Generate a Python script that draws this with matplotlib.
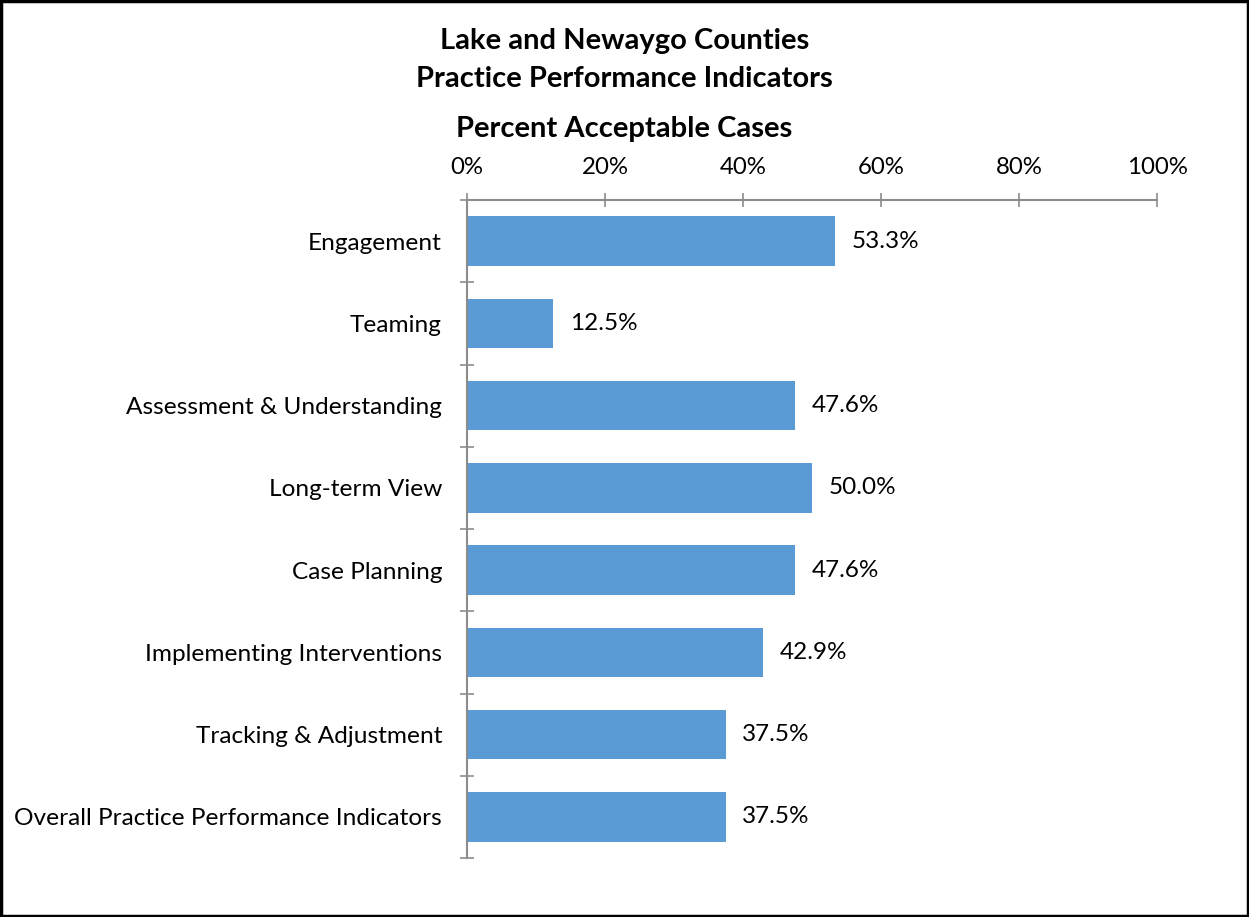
import matplotlib.pyplot as plt
import numpy as np
from matplotlib.patches import Rectangle

plt.rcParams['font.family'] = ['Lato', 'DejaVu Sans']

# data
categories = ['Engagement', 'Teaming', 'Assessment & Understanding',
              'Long-term View', 'Case Planning', 'Implementing Interventions',
              'Tracking & Adjustment', 'Overall Practice Performance Indicators']
percent = [53.3, 12.5, 47.6, 50.0, 47.6, 42.9, 37.5, 37.5]
xticks = [0, 20, 40, 60, 80, 100]

fig = plt.figure(figsize=(12.49, 9.17), dpi=100)
ax = fig.add_axes([467 / 1249, 1 - 858 / 917, 690 / 1249, 658 / 917])

y = np.arange(len(categories))
ax.barh(y, percent, height=0.6, color='#5B9BD5')
for yi, v in zip(y, percent):
    ax.text(v + 2.4, yi, f'{v:.1f}%', va='center', ha='left', fontsize=17.5)

ax.set_xlim(0, 100)
ax.set_ylim(len(categories) - 0.5, -0.5)

gray = '#8c8c8c'
ax.xaxis.tick_top()
ax.set_xticks(xticks)
ax.set_xticklabels([f'{t}%' for t in xticks], fontsize=17.3)
ax.tick_params(axis='x', direction='inout', length=10, width=1.2, color=gray, pad=11)

# category labels at bar centres, tick marks between bands
ax.set_yticks(y)
ax.set_yticklabels(categories, fontsize=17.6)
ax.tick_params(axis='y', length=0, pad=18)
ax.set_yticks(np.arange(-0.5, len(categories)), minor=True)
ax.tick_params(axis='y', which='minor', direction='inout', length=10, width=1.2, color=gray)

for side in ['right', 'bottom']:
    ax.spines[side].set_visible(False)
for side in ['left', 'top']:
    ax.spines[side].set_color(gray)
    ax.spines[side].set_linewidth(1.5)

fig.text(0.5, 1 - 41 / 917, 'Lake and Newaygo Counties', ha='center', va='center',
         fontsize=21, fontweight='bold')
fig.text(0.5, 1 - 79 / 917, 'Practice Performance Indicators', ha='center', va='center',
         fontsize=21, fontweight='bold')
fig.text(0.5, 1 - 129 / 917, 'Percent Acceptable Cases', ha='center', va='center',
         fontsize=21, fontweight='bold')

fig.patches.append(Rectangle((0.001, 0.001), 0.998, 0.998, transform=fig.transFigure,
                             fill=False, edgecolor='black', linewidth=2.5))

fig.savefig('out.png', dpi=100)
